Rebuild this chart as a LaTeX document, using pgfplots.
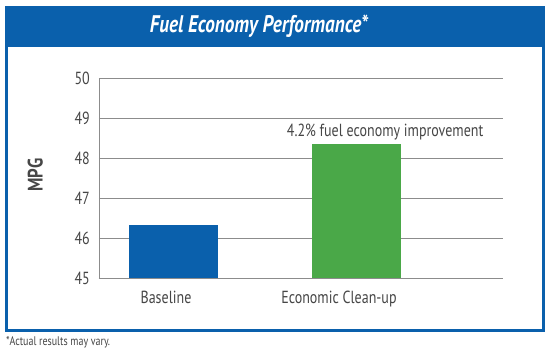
\documentclass[border=0pt]{standalone}
\usepackage{fontspec}
\setmainfont{PT Sans}[FakeStretch=0.8]
\usepackage{pgfplots}
\pgfplotsset{compat=1.18}
\definecolor{fblue}{RGB}{10,96,172}
\definecolor{fgreen}{RGB}{74,168,72}
\definecolor{tgray}{RGB}{70,70,70}
\definecolor{ggray}{RGB}{140,140,140}
\begin{document}
\begin{tikzpicture}[x=1pt,y=1pt]
\path[use as bounding box] (0,0) rectangle (550,361);
\fill[white] (0,0) rectangle (550,361);
\draw[fblue, line width=3pt] (6.5,30.5) rectangle (543.5,353.5);
\fill[fblue] (5,314) rectangle (545,355);
\node[white, font=\fontsize{24}{27}\selectfont\bfseries\itshape] at (259,334.5) {Fuel Economy Performance*};
\node[anchor=west, tgray, inner sep=0pt, font=\fontsize{12.5}{14}\selectfont] at (6,19) {*Actual results may vary.};
\begin{axis}[
  at={(99pt,83pt)}, anchor=south west, scale only axis,
  width=404pt, height=200pt,
  xmin=-0.407, xmax=1.8, ymin=45, ymax=50,
  ytick={45,46,47,48,49,50},
  xtick={-0.041,0.904},
  xticklabels={Baseline, Economic Clean-up},
  ymajorgrids, grid style={ggray, line width=0.8pt},
  axis x line=bottom, axis y line=left,
  axis line style={ggray, line width=0.8pt, -},
  major tick length=0pt,
  /pgf/number format/assume math mode=true,
  tick label style={tgray, font=\fontsize{17.5}{19}\selectfont},
  yticklabel style={inner sep=0pt, xshift=-9pt},
  xticklabel style={inner sep=0pt, yshift=-13pt},
  every axis y label/.style={at={(axis description cs:-0.158,0.515)}, rotate=90, anchor=center, font=\fontsize{21}{22}\selectfont\bfseries, text=tgray},
  ylabel={MPG},
  clip=false,
]
\addplot[ybar, bar width=89pt, bar shift=0pt, fill=fblue, draw=none] coordinates {(0,46.33)};
\addplot[ybar, bar width=89pt, bar shift=0pt, fill=fgreen, draw=none] coordinates {(1,48.35)};
\node[tgray, font=\fontsize{17.5}{19}\selectfont] at (axis cs:1.156,48.65) {4.2\% fuel economy improvement};
\end{axis}
\end{tikzpicture}
\end{document}
